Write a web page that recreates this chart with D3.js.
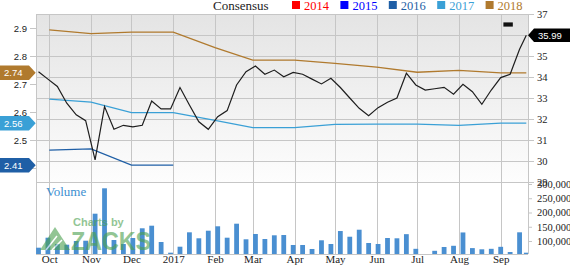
<!DOCTYPE html>
<html>
<head>
<meta charset="utf-8">
<script src="https://cdn.jsdelivr.net/npm/d3@7"></script>
<style>
  body { margin: 0; background: #fff; }
  svg { display: block; }
</style>
</head>
<body>
<svg id="chart" width="570" height="266"></svg>
<script>
// weekly closing prices and volume
const weekDates = [
  "2016-09-23", "2016-09-30", "2016-10-07", "2016-10-14", "2016-10-21", "2016-10-28",
  "2016-11-04", "2016-11-11", "2016-11-18", "2016-11-25", "2016-12-02", "2016-12-09",
  "2016-12-16", "2016-12-23", "2016-12-30", "2017-01-06", "2017-01-13", "2017-01-20",
  "2017-01-27", "2017-02-03", "2017-02-10", "2017-02-17", "2017-02-24", "2017-03-03",
  "2017-03-10", "2017-03-17", "2017-03-24", "2017-03-31", "2017-04-07", "2017-04-14",
  "2017-04-21", "2017-04-28", "2017-05-05", "2017-05-12", "2017-05-19", "2017-05-26",
  "2017-06-02", "2017-06-09", "2017-06-16", "2017-06-23", "2017-06-30", "2017-07-07",
  "2017-07-14", "2017-07-21", "2017-07-28", "2017-08-04", "2017-08-11", "2017-08-18",
  "2017-08-25", "2017-09-01", "2017-09-08", "2017-09-15", "2017-09-20"
];
const prices = [
  34.25, 33.9, 33.55, 32.75, 32.2, 31.92, 30.05, 32.59, 31.51, 31.7,
  31.63, 31.7, 32.86, 32.48, 32.48, 33.5, 32.67, 31.87, 31.51, 32.11,
  32.4, 33.62, 34.25, 34.52, 34.13, 34.33, 34.01, 34.22, 34.13, 33.9,
  33.67, 33.94, 33.5, 33.0, 32.51, 32.16, 32.54, 32.8, 33.0, 34.18,
  33.62, 33.38, 33.44, 33.51, 33.18, 33.65, 33.3, 32.7, 33.38, 33.97,
  34.13, 35.32, 35.99
];
const volumes = [
  76500, 111600, 89500, 87000, 100000, 101000, 195800, 284900, 103500, 89500,
  110500, 144600, 153700, 96500, 59000, 80000, 130500, 109500, 136100, 151600,
  111600, 160700, 106000, 124600, 107000, 120000, 121000, 86000, 86000, 72000,
  102500, 89500, 135000, 115000, 139600, 93000, 89500, 110500, 109500, 124000,
  72600, null, 65600, 79000, 83200, 130000, 75100, 70900, 72600, 79600,
  61400, 130500, 59000
];

// monthly consensus EPS estimates
const consensusDates = [
  "2016-10-01", "2016-11-01", "2016-12-01", "2017-01-01", "2017-02-01", "2017-03-01",
  "2017-04-01", "2017-05-01", "2017-06-01", "2017-07-01", "2017-08-01", "2017-09-01",
  "2017-09-20"
];
const eps2016 = [2.464, 2.468, 2.41, 2.41];
const eps2017 = [2.646, 2.635, 2.598, 2.598, 2.57, 2.544, 2.544, 2.556, 2.557, 2.557, 2.552, 2.56, 2.56];
const eps2018 = [2.893, 2.88, 2.885, 2.885, 2.83, 2.785, 2.785, 2.774, 2.76, 2.742, 2.749, 2.74, 2.74];

const legendYears = ["2014", "2015", "2016", "2017", "2018"];
const legendColors = ["#ff0000", "#0000ff", "#1f5fa6", "#3aa0d6", "#b07a2e"];

const epsTicks = [2.4, 2.5, 2.6, 2.7, 2.8, 2.9];
const priceTicks = [29, 30, 31, 32, 33, 34, 35, 36, 37];
const volumeTicks = [100000, 150000, 200000, 250000, 300000];

// earnings marker near the top right
const markerDates = ["2017-09-03", "2017-09-10"];
const markerPrices = [36.6, 36.4];

const parse = d3.timeParse("%Y-%m-%d");
const serif = "'Liberation Serif', 'Times New Roman', serif";
const sans = "'Liberation Sans', Arial, sans-serif";

const plot = { left: 36, right: 528, top: 14, mid: 182, bottom: 254 };

const x = d3.scaleTime()
  .domain([new Date(2016, 8, 21), new Date(2017, 8, 22)])
  .range([35.8, 529]);
const yPrice = d3.scaleLinear().domain([29, 37]).range([plot.mid, plot.top]);
const yEps = d3.scaleLinear().domain([2.35, 2.95]).range([plot.mid, plot.top]);
const yVol = d3.scaleLinear().domain([54400, 307000]).range([plot.bottom, plot.mid]);

const svg = d3.select("#chart");

const defs = svg.append("defs");
const grad = defs.append("linearGradient")
  .attr("id", "bg")
  .attr("x1", 0).attr("y1", 0).attr("x2", 0).attr("y2", 1);
grad.append("stop").attr("offset", "0%").attr("stop-color", "#e4e4e4");
grad.append("stop").attr("offset", "100%").attr("stop-color", "#fdfdfd");
defs.append("clipPath").attr("id", "clip")
  .append("rect")
  .attr("x", plot.left).attr("y", plot.top)
  .attr("width", plot.right - plot.left).attr("height", plot.bottom - plot.top);

svg.append("rect")
  .attr("x", plot.left).attr("y", plot.top)
  .attr("width", plot.right - plot.left).attr("height", plot.mid - plot.top)
  .attr("fill", "url(#bg)");

// grid
const months = x.ticks(d3.timeMonth.every(1));
svg.append("g")
  .selectAll("line")
  .data(months)
  .join("line")
  .attr("x1", (d) => Math.round(x(d)) + 0.5)
  .attr("x2", (d) => Math.round(x(d)) + 0.5)
  .attr("y1", plot.top)
  .attr("y2", plot.bottom)
  .attr("stroke", "#c6c6c6");

svg.append("g")
  .selectAll("line")
  .data(priceTicks)
  .join("line")
  .attr("x1", plot.left)
  .attr("x2", plot.right)
  .attr("y1", (d) => Math.round(yPrice(d)) + 0.5)
  .attr("y2", (d) => Math.round(yPrice(d)) + 0.5)
  .attr("stroke", "#c6c6c6");

svg.append("line")
  .attr("x1", plot.left + 0.5).attr("x2", plot.left + 0.5)
  .attr("y1", plot.top).attr("y2", plot.bottom)
  .attr("stroke", "#c6c6c6");
svg.append("line")
  .attr("x1", plot.right + 0.5).attr("x2", plot.right + 0.5)
  .attr("y1", plot.top).attr("y2", plot.bottom)
  .attr("stroke", "#c6c6c6");
svg.append("line")
  .attr("x1", plot.left).attr("x2", plot.right)
  .attr("y1", plot.bottom + 0.5).attr("y2", plot.bottom + 0.5)
  .attr("stroke", "#c6c6c6");

// volume bars
const body = svg.append("g").attr("clip-path", "url(#clip)");
body.append("g")
  .selectAll("rect")
  .data(weekDates.map((d, i) => ({ date: parse(d), v: volumes[i] })).filter((d) => d.v != null))
  .join("rect")
  .attr("x", (d) => x(d.date) - 2.4)
  .attr("width", 4.8)
  .attr("y", (d) => yVol(d.v))
  .attr("height", (d) => yVol.range()[0] - yVol(d.v))
  .attr("fill", "#4a8fd1");

svg.append("text")
  .attr("x", 46).attr("y", 196)
  .attr("font-family", serif).attr("font-size", 13)
  .attr("fill", "#3b8ed0")
  .text("Volume");

// watermark
const wm = svg.append("g").attr("opacity", 0.6);
wm.append("path")
  .attr("d", "M40,250 L55,227 L70,250 Z")
  .attr("fill", "#4aa04e");
wm.append("path")
  .attr("d", "M46,250 L57,236 M52,250 L62,240")
  .attr("stroke", "#fff").attr("stroke-width", 1.5);
wm.append("text")
  .attr("x", 73).attr("y", 226)
  .attr("font-family", sans).attr("font-weight", "bold").attr("font-size", 11)
  .attr("fill", "#4aa04e")
  .text("Charts by");
wm.append("text")
  .attr("x", 71).attr("y", 249.5)
  .attr("font-family", sans).attr("font-weight", "bold").attr("font-size", 26)
  .attr("textLength", 80).attr("lengthAdjust", "spacingAndGlyphs")
  .attr("fill", "#4aa04e")
  .text("ZACKS");

// consensus lines
const epsSeries = [
  { values: eps2016, color: legendColors[2] },
  { values: eps2017, color: legendColors[3] },
  { values: eps2018, color: legendColors[4] },
];
const epsLine = d3.line()
  .x((d) => x(d.date))
  .y((d) => yEps(d.v));
body.append("g")
  .selectAll("path")
  .data(epsSeries)
  .join("path")
  .attr("d", (s) => epsLine(s.values.map((v, i) => ({ date: parse(consensusDates[i]), v }))))
  .attr("fill", "none")
  .attr("stroke", (s) => s.color)
  .attr("stroke-width", 1.3);

// price line
const priceLine = d3.line()
  .x((d, i) => x(parse(weekDates[i])))
  .y((d) => yPrice(d));
body.append("path")
  .attr("d", priceLine(prices))
  .attr("fill", "none")
  .attr("stroke", "#1e1e1e")
  .attr("stroke-width", 1.2);

body.append("rect")
  .attr("x", x(parse(markerDates[0])))
  .attr("y", yPrice(markerPrices[0]))
  .attr("width", x(parse(markerDates[1])) - x(parse(markerDates[0])))
  .attr("height", yPrice(markerPrices[1]) - yPrice(markerPrices[0]))
  .attr("fill", "#111");

// axes
const leftAxis = svg.append("g")
  .attr("transform", `translate(${plot.left},0)`)
  .call(d3.axisLeft(yEps).tickValues(epsTicks).tickSize(6).tickPadding(3).tickFormat(d3.format(".1f")))
  .call((g) => g.select(".domain").remove());
leftAxis.selectAll("line").attr("stroke", "#c6c6c6");
leftAxis.selectAll("text").attr("font-family", sans).attr("font-size", 9.5).attr("fill", "#222");

const rightAxis = svg.append("g")
  .attr("transform", `translate(${plot.right},0)`)
  .call(d3.axisRight(yPrice).tickValues(priceTicks).tickSize(6).tickPadding(3))
  .call((g) => g.select(".domain").remove());
rightAxis.selectAll("line").attr("stroke", "#c6c6c6");
rightAxis.selectAll("text").attr("font-family", serif).attr("font-size", 10.5).attr("fill", "#222");

const volAxis = svg.append("g")
  .attr("transform", `translate(${plot.right},0)`)
  .call(d3.axisRight(yVol).tickValues(volumeTicks).tickSize(4).tickPadding(5).tickFormat(d3.format(",")))
  .call((g) => g.select(".domain").remove());
volAxis.selectAll("line").attr("stroke", "#c6c6c6");
volAxis.selectAll("text").attr("font-family", serif).attr("font-size", 10.5).attr("fill", "#222");

const monthFormat = (d) => (d.getMonth() === 0 ? d3.timeFormat("%Y")(d) : d3.timeFormat("%b")(d));
const bottomAxis = svg.append("g")
  .attr("transform", `translate(0,${plot.bottom})`)
  .call(d3.axisBottom(x).tickValues(months).tickSize(0).tickPadding(1.5).tickFormat(monthFormat))
  .call((g) => g.select(".domain").remove());
bottomAxis.selectAll("text").attr("font-family", serif).attr("font-size", 11).attr("fill", "#222");

// value tags
const tagH = 14.6;
const leftTags = epsSeries.map((s) => ({ v: s.values[s.values.length - 1], color: s.color }));
const lt = svg.append("g").selectAll("g").data(leftTags).join("g")
  .attr("transform", (d) => `translate(0,${yEps(d.v)})`);
lt.append("path")
  .attr("d", `M0,${-tagH / 2} H29 L35.7,0 L29,${tagH / 2} H0 Z`)
  .attr("fill", (d) => d.color);
lt.append("text")
  .attr("x", 4).attr("dy", "0.35em")
  .attr("font-family", sans).attr("font-size", 9.5)
  .attr("fill", "#fff")
  .text((d) => d.v.toFixed(2));

const lastPrice = prices[prices.length - 1];
const rt = svg.append("g").attr("transform", `translate(${plot.right},${yPrice(lastPrice)})`);
rt.append("path")
  .attr("d", "M0,0 L6,-6.7 H42 V6.7 H6 Z")
  .attr("fill", "#000");
rt.append("text")
  .attr("x", 10).attr("dy", "0.35em")
  .attr("font-family", sans).attr("font-size", 9.5)
  .attr("fill", "#fff")
  .text(lastPrice.toFixed(2));

// legend
svg.append("text")
  .attr("x", 213).attr("y", 9.5)
  .attr("font-family", serif).attr("font-size", 13)
  .attr("fill", "#222")
  .text("Consensus");
const legend = svg.append("g").selectAll("g").data(legendYears).join("g")
  .attr("transform", (d, i) => `translate(${292 + i * 48.4},0)`);
legend.append("rect")
  .attr("x", 0).attr("y", 1).attr("width", 8).attr("height", 8)
  .attr("fill", (d, i) => legendColors[i]);
legend.append("text")
  .attr("x", 12).attr("y", 9.5)
  .attr("font-family", serif).attr("font-size", 12.5)
  .attr("fill", (d, i) => legendColors[i])
  .text((d) => d);
</script>
</body>
</html>
